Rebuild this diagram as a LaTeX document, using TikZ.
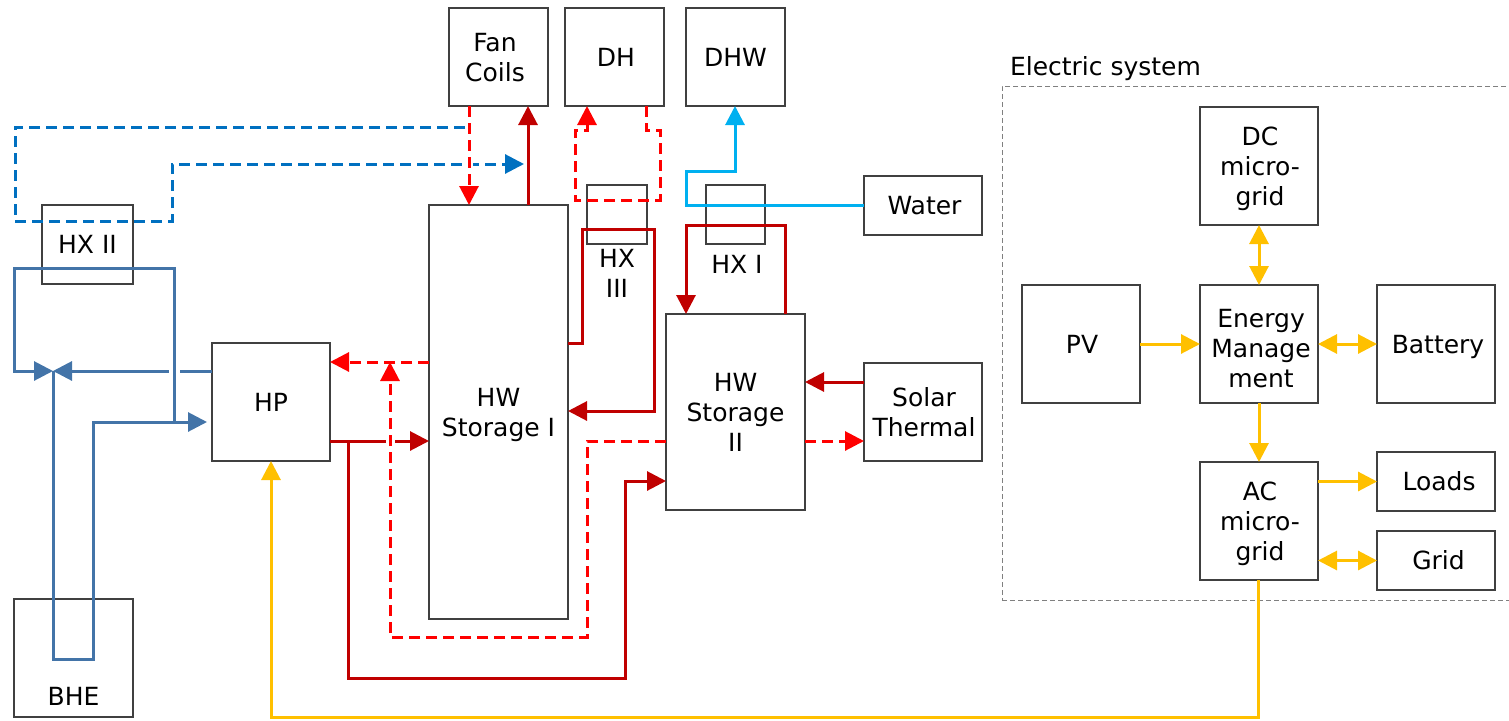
\documentclass[tikz,border=0pt]{standalone}
\usepackage{fontspec}
\setmainfont{DejaVu Sans}
\usetikzlibrary{arrows.meta}
\definecolor{bxc}{HTML}{404040}
\definecolor{framec}{HTML}{808080}
\definecolor{pipe}{HTML}{4374A8}
\definecolor{dblue}{HTML}{0070C0}
\definecolor{cyanw}{HTML}{00B0F0}
\definecolor{dred}{HTML}{C00000}
\definecolor{lred}{HTML}{FF0000}
\definecolor{elec}{HTML}{FFC000}
\newcommand\tl[2][0pt]{\hspace*{#1}\rule{0pt}{18pt}\smash{#2}}
\tikzset{
 box/.style={draw=bxc,line width=1.8pt,inner sep=0pt,outer sep=0pt,align=center,font=\fontsize{25}{30}\selectfont},
 txt/.style={inner sep=0pt,outer sep=0pt,align=center,font=\fontsize{25}{30}\selectfont},
 tip/.style={-{Triangle[length=19pt,width=19pt]}},
 tipb/.style={{Triangle[length=19pt,width=19pt]}-{Triangle[length=19pt,width=19pt]}},
 pipeb/.style={pipe,line width=3pt,line join=miter},
 hot/.style={dred,line width=3pt},
 hotd/.style={lred,line width=3pt,dash pattern=on 11pt off 6pt},
 cold/.style={dblue,line width=3pt,dash pattern=on 11pt off 6pt},
 tapw/.style={cyanw,line width=3pt},
 power/.style={elec,line width=3pt},
 halo/.style={white,line width=11pt}
}
\begin{document}
\begin{tikzpicture}[x=1pt,y=-1pt]
\useasboundingbox (0,0) rectangle (1509,720);
% boxes
\node[box,minimum width=99pt,minimum height=98pt] (fan) at (498.5,57) {\tl[-7pt]{Fan}\\\tl[-7pt]{Coils}};
\node[box,minimum width=99pt,minimum height=98pt] (dh) at (614.5,57) {\tl[3pt]{DH}};
\node[box,minimum width=99pt,minimum height=98pt] (dhw) at (735.5,57) {\tl{DHW}};
\node[box,minimum width=118pt,minimum height=59pt] (water) at (923,205.5) {\tl[3pt]{Water}};
\node[box,minimum width=91pt,minimum height=79pt] (hx2) at (87.5,244.5) {\tl{HX II}};
\node[box,minimum width=139pt,minimum height=414pt] (st1) at (498.5,412) {\tl{HW}\\\tl{Storage I}};
\node[box,minimum width=60pt,minimum height=59pt] (hx3) at (617,214.5) {};
\node[txt] (hx3t) at (617,273) {\tl{HX}\\\tl{III}};
\node[box,minimum width=59pt,minimum height=59pt] (hx1) at (735.5,214.5) {};
\node[txt] (hx1t) at (737,264) {\tl{HX I}};
\node[box,minimum width=139pt,minimum height=196pt] (st2) at (735.5,412) {\tl{HW}\\\tl{Storage}\\\tl{II}};
\node[box,minimum width=118pt,minimum height=118pt] (hp) at (271,402) {\tl{HP}};
\node[box,minimum width=118pt,minimum height=98pt] (sol) at (923,412) {\tl[2pt]{Solar}\\\tl[2pt]{Thermal}};
\node[box,minimum width=119pt,minimum height=118pt] (bhe) at (73.5,658) {};
\node[txt] (bhet) at (73.5,696) {\tl{BHE}};
\node[box,minimum width=118pt,minimum height=118pt] (pv) at (1081,344) {\tl[2pt]{PV}};
\node[box,minimum width=118pt,minimum height=118pt] (dc) at (1259,166) {\tl[2pt]{DC}\\\tl[2pt]{micro-}\\\tl[2pt]{grid}};
\node[box,minimum width=118pt,minimum height=118pt] (em) at (1259,344) {\rule{0pt}{26pt}\tl[4pt]{Energy}\\\tl[4pt]{Manage}\\\tl[4pt]{ment}};
\node[box,minimum width=118pt,minimum height=118pt] (bat) at (1436,344) {\tl[4pt]{Battery}};
\node[box,minimum width=118pt,minimum height=118pt] (ac) at (1259,521) {\tl[2pt]{AC}\\\tl[2pt]{micro-}\\\tl[2pt]{grid}};
\node[box,minimum width=118pt,minimum height=59pt] (loads) at (1436,481.5) {\tl[6pt]{Loads}};
\node[box,minimum width=118pt,minimum height=59pt] (grid) at (1436,560.5) {\tl[5pt]{Grid}};
\node[draw=framec,line width=1pt,dash pattern=on 5pt off 3pt,inner sep=0pt,outer sep=0pt,minimum width=507pt,minimum height=514pt] (es) at (1255.5,343) {};
\node[txt,anchor=west] (est) at (1010,66) {\tl{Electric system}};
% blue ground loops
\coordinate (junc) at (53,371);
\draw[pipeb,tip] (174,422) -- (174,268) -- (14,268) -- (14,371) -- (junc);
\draw[pipeb,tip] (hp.west |- junc) -- (junc);
\draw[halo] (174,366) -- (174,376);
\draw[pipeb] (174,360) -- (174,422);
\draw[pipeb,tip] (junc) -- (53,659) -- (93,659) -- (93,422) -- ([xshift=-5pt]hp.west |- 0,422);
% cold dashed
\draw[cold,tip] (465,127) -- (15,127) -- (15,221) -- (172,221) -- (172,164) -- (524,164);
% red
\draw[white,line width=8pt] (469,157) -- (469,171);
\draw[hotd,tip] (469,0 |- fan.south) -- (469,0 |- st1.north);
\draw[hot,tip] (528,0 |- st1.north) -- (528,0 |- fan.south);
\draw[hotd,tip] (646,0 |- dh.south) -- (646,130) -- (660,130) -- (660,200) -- (575,200) -- (575,130) -- (587,130) -- (587,0 |- dh.south);
\draw[tapw,tip] (water.west) -- (686,205.5) -- (686,171) -- (735,171) -- (735,0 |- dhw.south);
\draw[hot,tip] (st1.east |- 0,343) -- (582,343) -- (582,229) -- (654,229) -- (654,411) -- (st1.east |- 0,411);
\draw[hot,tip] (785,0 |- st2.north) -- (785,225) -- (686,225) -- (686,0 |- st2.north);
\draw[hotd,tip] (st1.west |- 0,362) -- (hp.east |- 0,362);
\draw[hot,tip] (hp.east |- 0,441) -- (st1.west |- 0,441);
\draw[halo,line width=9pt] (390,436) -- (390,446);
\draw[hotd,tip] (st2.west |- 0,441) -- (587,441) -- (587,637) -- (390,637) -- (390,362);
\draw[hot,tip] (348,441) -- (348,678) -- (625,678) -- (625,481) -- (st2.west |- 0,481);
\draw[hot,tip] (sol.west |- 0,382) -- (st2.east |- 0,382);
\draw[hotd,tip] (st2.east |- 0,441) -- (sol.west |- 0,441);
% electric
\draw[power,tip] (1258,0 |- ac.south) -- (1258,717) -- (271,717) -- (271,0 |- hp.south);
\draw[power,tip] (pv.east |- em.west) -- (em.west);
\draw[power,tipb] (dc.south) -- (em.north);
\draw[power,tipb] (em.east) -- (bat.west);
\draw[power,tip] (em.south) -- (ac.north);
\draw[power,tip] (ac.east |- loads.west) -- (loads.west);
\draw[power,tipb] (ac.east |- grid.west) -- (grid.west);
\end{tikzpicture}
\end{document}
